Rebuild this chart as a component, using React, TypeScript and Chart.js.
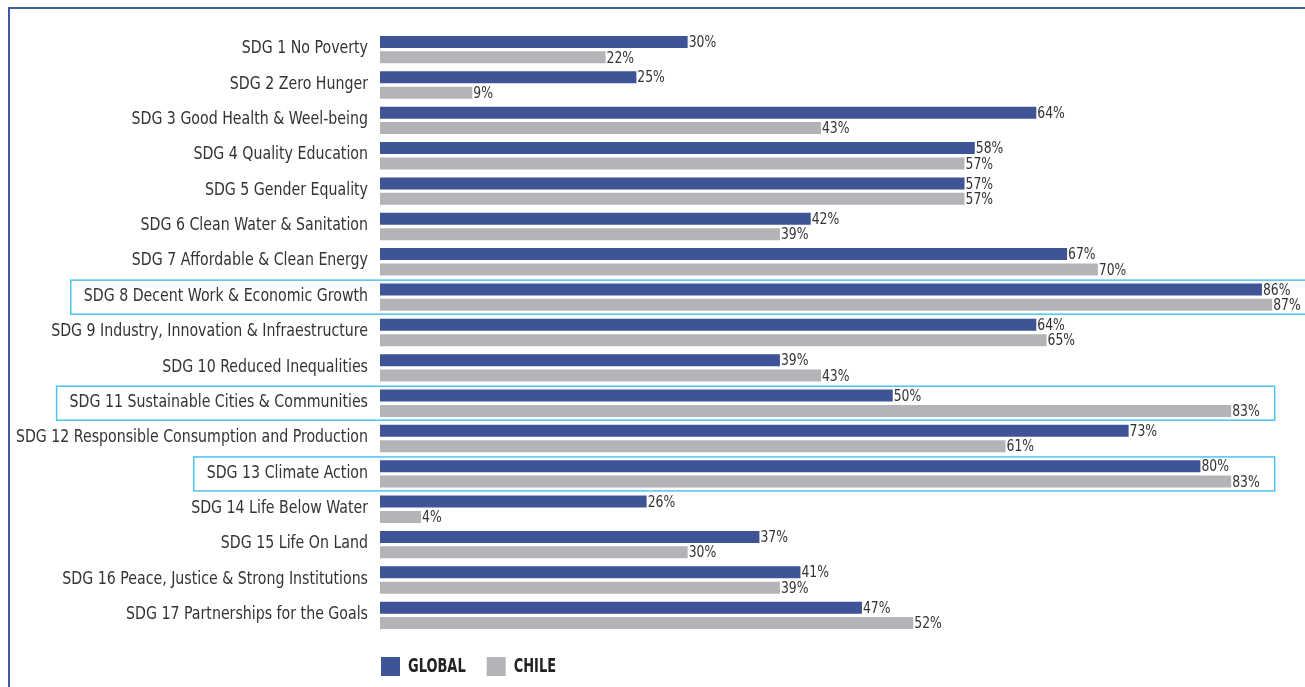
import React, { useEffect, useRef } from "react";
import { Chart, registerables } from "chart.js";

Chart.register(...registerables);

const categories = [
  "SDG 1 No Poverty",
  "SDG 2 Zero Hunger",
  "SDG 3 Good Health & Weel-being",
  "SDG 4 Quality Education",
  "SDG 5 Gender Equality",
  "SDG 6 Clean Water & Sanitation",
  "SDG 7 Affordable & Clean Energy",
  "SDG 8 Decent Work & Economic Growth",
  "SDG 9 Industry, Innovation & Infraestructure",
  "SDG 10 Reduced Inequalities",
  "SDG 11 Sustainable Cities & Communities",
  "SDG 12 Responsible Consumption and Production",
  "SDG 13 Climate Action",
  "SDG 14 Life Below Water",
  "SDG 15 Life On Land",
  "SDG 16 Peace, Justice & Strong Institutions",
  "SDG 17 Partnerships for the Goals",
];

const globalValues = [30, 25, 64, 58, 57, 42, 67, 86, 64, 39, 50, 73, 80, 26, 37, 41, 47];
const chileValues = [22, 9, 43, 57, 57, 39, 70, 87, 65, 43, 83, 61, 83, 4, 30, 39, 52];

const highlighted = [
  "SDG 8 Decent Work & Economic Growth",
  "SDG 11 Sustainable Cities & Communities",
  "SDG 13 Climate Action",
];

const FONT = '"DejaVu Sans Condensed", "Liberation Sans Narrow", sans-serif';
const BLUE = "#3f5497";
const GRAY = "#b3b4b8";
const TEXT = "#333333";
const HIGHLIGHT = "#4ec3ef";
const FRAME = "#3d5aa5";
const LABEL_SX = 0.875;
const LEGEND_SX = 0.76;

function condensedText(ctx: any, text: string, x: number, y: number, sx: number) {
  ctx.save();
  ctx.translate(x, y);
  ctx.scale(sx, 1);
  ctx.fillText(text, 0, 0);
  ctx.restore();
}

const decorPlugin = {
  id: "decor",
  beforeDraw(chart: any) {
    const ctx = chart.ctx;
    ctx.save();
    ctx.fillStyle = FRAME;
    ctx.fillRect(8, 7, chart.width - 8, 2);
    ctx.fillRect(8, 7, 2, chart.height - 7);
    ctx.restore();
  },
  afterDatasetsDraw(chart: any) {
    const ctx = chart.ctx;
    const y = chart.scales.y;
    const x = chart.scales.x;
    const area = chart.chartArea;
    ctx.save();
    // value labels
    ctx.font = `16px ${FONT}`;
    ctx.fillStyle = TEXT;
    ctx.textBaseline = "middle";
    ctx.textAlign = "left";
    chart.data.datasets.forEach((ds: any, di: number) => {
      const meta = chart.getDatasetMeta(di);
      meta.data.forEach((el: any, i: number) => {
        condensedText(ctx, `${ds.data[i]}%`, el.x + 1, el.y + 1, 0.86);
      });
    });
    // category labels
    ctx.font = `18px ${FONT}`;
    ctx.textAlign = "right";
    ctx.fillStyle = TEXT;
    const labelRight = area.left - 12;
    categories.forEach((name, i) => {
      condensedText(ctx, name, labelRight, y.getPixelForValue(i) - 1, LABEL_SX);
    });
    // highlight boxes
    highlighted.forEach((name) => {
      const idx = categories.indexOf(name);
      if (idx < 0) return;
      const cy = y.getPixelForValue(idx);
      ctx.font = `18px ${FONT}`;
      const labelW = ctx.measureText(name).width * LABEL_SX;
      const labelLeft = labelRight - labelW;
      const maxV = Math.max(globalValues[idx], chileValues[idx]);
      ctx.font = `16px ${FONT}`;
      const valW = ctx.measureText(`${maxV}%`).width * 0.86;
      const right = x.getPixelForValue(maxV) + 1 + valW + 15;
      const left = labelLeft - 13;
      ctx.strokeStyle = HIGHLIGHT;
      ctx.lineWidth = 1.5;
      ctx.strokeRect(left, cy - 17, right - left, 34);
    });
    // legend
    ctx.font = `bold 19px ${FONT}`;
    ctx.textAlign = "left";
    ctx.textBaseline = "middle";
    let lx = area.left + 1;
    const ly = 657;
    chart.data.datasets.forEach((ds: any) => {
      ctx.fillStyle = ds.backgroundColor;
      ctx.fillRect(lx, ly, 19, 19);
      ctx.fillStyle = "#222222";
      const tx = lx + 27;
      condensedText(ctx, ds.label, tx, ly + 10, LEGEND_SX);
      lx = tx + ctx.measureText(ds.label).width * LEGEND_SX + 21;
    });
    ctx.restore();
  },
};

export default function App() {
  const ref = useRef<HTMLCanvasElement | null>(null);
  useEffect(() => {
    if (!ref.current) return;
    const chart = new Chart(ref.current, {
      type: "bar",
      data: {
        labels: categories,
        datasets: [
          {
            label: "GLOBAL",
            data: globalValues,
            backgroundColor: BLUE,
            categoryPercentage: 0.87,
            barPercentage: 0.78,
          },
          {
            label: "CHILE",
            data: chileValues,
            backgroundColor: GRAY,
            categoryPercentage: 0.87,
            barPercentage: 0.78,
          },
        ],
      },
      options: {
        indexAxis: "y",
        animation: false,
        responsive: true,
        maintainAspectRatio: false,
        layout: { padding: { top: 32, right: 0, left: 0, bottom: 54 } },
        scales: {
          x: { display: false, min: 0, max: 90.2 },
          y: {
            grid: { display: false },
            border: { display: false },
            ticks: { display: false },
            afterFit: (scale: any) => {
              scale.width = 380;
            },
          },
        },
        plugins: {
          tooltip: { enabled: false },
          legend: { display: false },
        },
      },
      plugins: [decorPlugin],
    });
    return () => chart.destroy();
  }, []);
  return (
    <div style={{ position: "fixed", left: 0, top: 0, width: 1305, height: 687, background: "#fff" }}>
      <canvas ref={ref} />
    </div>
  );
}
